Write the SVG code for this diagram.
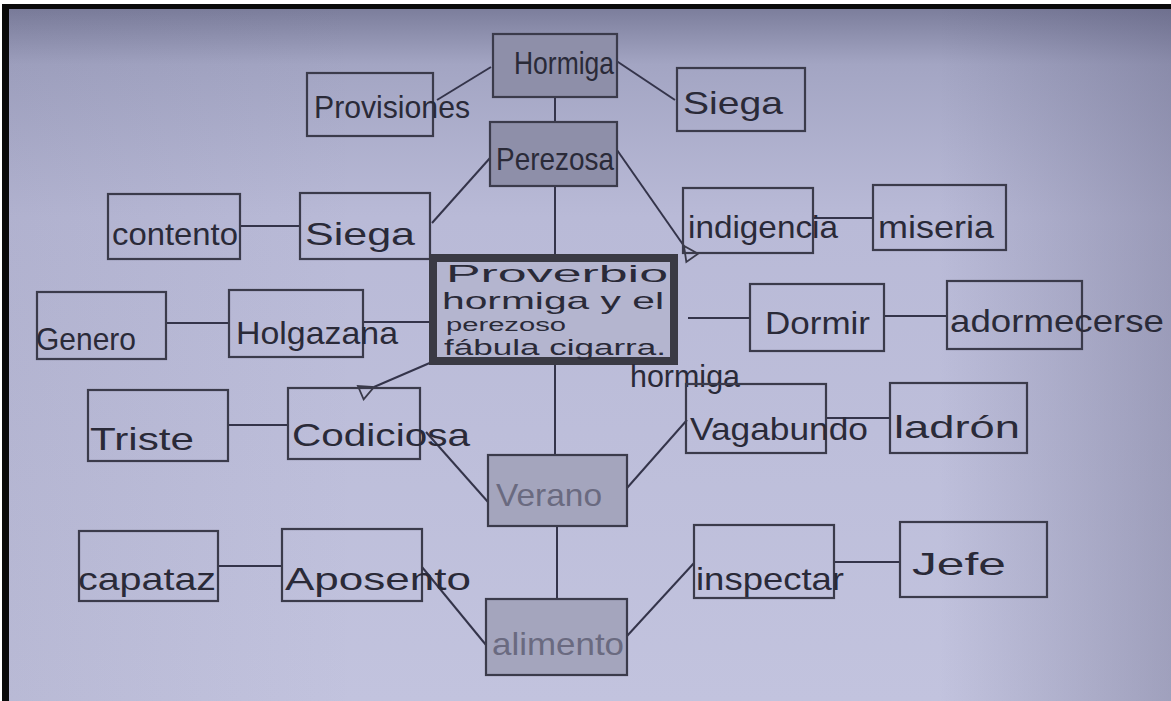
<svg xmlns="http://www.w3.org/2000/svg" width="1171" height="701" viewBox="0 0 1171 701">
<defs>
<linearGradient id="bgV" x1="0" y1="0" x2="0" y2="1">
<stop offset="0" stop-color="#7c7e9c"/>
<stop offset="0.08" stop-color="#a3a5c3"/>
<stop offset="0.3" stop-color="#b9bad7"/>
<stop offset="1" stop-color="#c2c3de"/>
</linearGradient>
<linearGradient id="bgH" x1="0" y1="0" x2="1" y2="0">
<stop offset="0" stop-color="#505070" stop-opacity="0.08"/>
<stop offset="0.3" stop-color="#505070" stop-opacity="0"/>
<stop offset="0.8" stop-color="#505070" stop-opacity="0"/>
<stop offset="1" stop-color="#505070" stop-opacity="0.3"/>
</linearGradient>
<marker id="openArrow" viewBox="0 0 20 20" refX="2" refY="10" markerWidth="18" markerHeight="18" markerUnits="userSpaceOnUse" orient="auto">
<path d="M18,2 L2,10 L18,18 Z" fill="none" stroke="#3a3a4a" stroke-width="2"/>
</marker>
</defs>
<style>
.box{fill:none;stroke:#3b3b4b;stroke-width:2.2}
.dark{fill:#8e8fa9;stroke:#3b3b4b;stroke-width:2.2}
.mid{fill:#a4a5bd;stroke:#3b3b4b;stroke-width:2.2}
.center{fill:#b4b5cf;stroke:#3a3a44;stroke-width:8}
.lbl{font-family:"Liberation Sans","DejaVu Sans",sans-serif;font-size:32px;fill:#2a2a38}
.faint{fill:#6a6a80}
.conn line{stroke:#34344a;stroke-width:2}
</style>
<rect width="1171" height="701" fill="#ffffff"/>
<rect x="2" y="4" width="1169" height="697" fill="#0a0a0a"/>
<rect x="9" y="9" width="1162" height="692" fill="url(#bgV)"/>
<rect x="9" y="9" width="1162" height="692" fill="url(#bgH)"/>

<g id="connectors" class="conn">
<line x1="491" y1="67" x2="437" y2="100"/>
<line x1="615" y1="60" x2="675" y2="100"/>
<line x1="555" y1="97" x2="555" y2="122"/>
<line x1="490" y1="158" x2="432" y2="223"/>
<line x1="617" y1="150" x2="684" y2="246" marker-end="url(#openArrow)"/>
<line x1="555" y1="186" x2="555" y2="455"/>
<line x1="240" y1="226" x2="300" y2="226"/>
<line x1="813" y1="218" x2="873" y2="218"/>
<line x1="166" y1="323" x2="229" y2="323"/>
<line x1="363" y1="322" x2="430" y2="322"/>
<line x1="688" y1="318" x2="750" y2="318"/>
<line x1="884" y1="316" x2="947" y2="316"/>
<line x1="432" y1="362" x2="374" y2="387" marker-end="url(#openArrow)"/>
<line x1="228" y1="425" x2="288" y2="425"/>
<line x1="426" y1="432" x2="488" y2="502"/>
<line x1="627" y1="488" x2="687" y2="420"/>
<line x1="826" y1="418" x2="890" y2="418"/>
<line x1="557" y1="526" x2="557" y2="599"/>
<line x1="218" y1="566" x2="282" y2="566"/>
<line x1="422" y1="567" x2="486" y2="645"/>
<line x1="627" y1="636" x2="694" y2="563"/>
<line x1="834" y1="562" x2="900" y2="562"/>
</g>

<g id="hormiga">
<rect class="dark" x="493" y="34" width="124" height="63"/>
<text class="lbl" x="514" y="74" textLength="100" lengthAdjust="spacingAndGlyphs">Hormiga</text>
</g>
<g id="provisiones">
<rect class="box" x="307" y="73" width="126" height="63"/>
<text class="lbl" x="314" y="118" textLength="156" lengthAdjust="spacingAndGlyphs">Provisiones</text>
</g>
<g id="siega-top">
<rect class="box" x="677" y="68" width="128" height="63"/>
<text class="lbl" x="683" y="114" textLength="100" lengthAdjust="spacingAndGlyphs">Siega</text>
</g>
<g id="perezosa">
<rect class="dark" x="490" y="122" width="127" height="64"/>
<text class="lbl" x="496" y="170" textLength="118" lengthAdjust="spacingAndGlyphs">Perezosa</text>
</g>
<g id="contento">
<rect class="box" x="108" y="194" width="132" height="65"/>
<text class="lbl" x="112" y="245" textLength="126" lengthAdjust="spacingAndGlyphs">contento</text>
</g>
<g id="siega-left">
<rect class="box" x="300" y="193" width="130" height="66"/>
<text class="lbl" x="305" y="245" textLength="110" lengthAdjust="spacingAndGlyphs">Siega</text>
</g>
<g id="indigencia">
<rect class="box" x="683" y="188" width="130" height="65"/>
<text class="lbl" x="688" y="238" textLength="150" lengthAdjust="spacingAndGlyphs">indigencia</text>
</g>
<g id="miseria">
<rect class="box" x="873" y="185" width="133" height="65"/>
<text class="lbl" x="878" y="238" textLength="116" lengthAdjust="spacingAndGlyphs">miseria</text>
</g>
<g id="centro">
<rect class="center" x="433" y="258" width="241" height="103"/>
<text class="lbl" font-size="22"><tspan x="446" y="282" font-size="24" textLength="222" lengthAdjust="spacingAndGlyphs">Proverbio</tspan><tspan x="442" y="309" font-size="24" textLength="222" lengthAdjust="spacingAndGlyphs">hormiga y el</tspan><tspan x="446" y="331" font-size="18" textLength="120" lengthAdjust="spacingAndGlyphs">perezoso</tspan><tspan x="444" y="355" font-size="22" textLength="222" lengthAdjust="spacingAndGlyphs">fábula cigarra.</tspan></text>
<text class="lbl" x="630" y="387" font-size="22" textLength="110" lengthAdjust="spacingAndGlyphs">hormiga</text>
</g>
<g id="genero">
<rect class="box" x="37" y="292" width="129" height="67"/>
<text class="lbl" x="36" y="350" textLength="100" lengthAdjust="spacingAndGlyphs">Genero</text>
</g>
<g id="holgazana">
<rect class="box" x="229" y="290" width="134" height="67"/>
<text class="lbl" x="236" y="344" textLength="162" lengthAdjust="spacingAndGlyphs">Holgazana</text>
</g>
<g id="dormir">
<rect class="box" x="750" y="284" width="134" height="67"/>
<text class="lbl" x="765" y="334" textLength="105" lengthAdjust="spacingAndGlyphs">Dormir</text>
</g>
<g id="adormecerse">
<rect class="box" x="947" y="281" width="135" height="68"/>
<text class="lbl" x="950" y="332" textLength="214" lengthAdjust="spacingAndGlyphs">adormecerse</text>
</g>
<g id="triste">
<rect class="box" x="88" y="390" width="140" height="71"/>
<text class="lbl" x="90" y="450" textLength="104" lengthAdjust="spacingAndGlyphs">Triste</text>
</g>
<g id="codiciosa">
<rect class="box" x="288" y="388" width="132" height="71"/>
<text class="lbl" x="292" y="446" textLength="178" lengthAdjust="spacingAndGlyphs">Codiciosa</text>
</g>
<g id="vagabundo">
<rect class="box" x="686" y="384" width="140" height="69"/>
<text class="lbl" x="690" y="440" textLength="178" lengthAdjust="spacingAndGlyphs">Vagabundo</text>
</g>
<g id="ladron">
<rect class="box" x="890" y="383" width="137" height="70"/>
<text class="lbl" x="894" y="438" textLength="126" lengthAdjust="spacingAndGlyphs">ladrón</text>
</g>
<g id="verano">
<rect class="mid" x="488" y="455" width="139" height="71"/>
<text class="lbl faint" x="496" y="506" textLength="106" lengthAdjust="spacingAndGlyphs">Verano</text>
</g>
<g id="capataz">
<rect class="box" x="79" y="531" width="139" height="70"/>
<text class="lbl" x="78" y="590" textLength="138" lengthAdjust="spacingAndGlyphs">capataz</text>
</g>
<g id="aposento">
<rect class="box" x="282" y="529" width="140" height="72"/>
<text class="lbl" x="285" y="590" textLength="186" lengthAdjust="spacingAndGlyphs">Aposento</text>
</g>
<g id="inspectar">
<rect class="box" x="694" y="525" width="140" height="73"/>
<text class="lbl" x="696" y="590" textLength="148" lengthAdjust="spacingAndGlyphs">inspectar</text>
</g>
<g id="jefe">
<rect class="box" x="900" y="522" width="147" height="75"/>
<text class="lbl" x="912" y="575" textLength="94" lengthAdjust="spacingAndGlyphs">Jefe</text>
</g>
<g id="alimento">
<rect class="mid" x="486" y="599" width="141" height="76"/>
<text class="lbl faint" x="492" y="655" textLength="132" lengthAdjust="spacingAndGlyphs">alimento</text>
</g>
</svg>
